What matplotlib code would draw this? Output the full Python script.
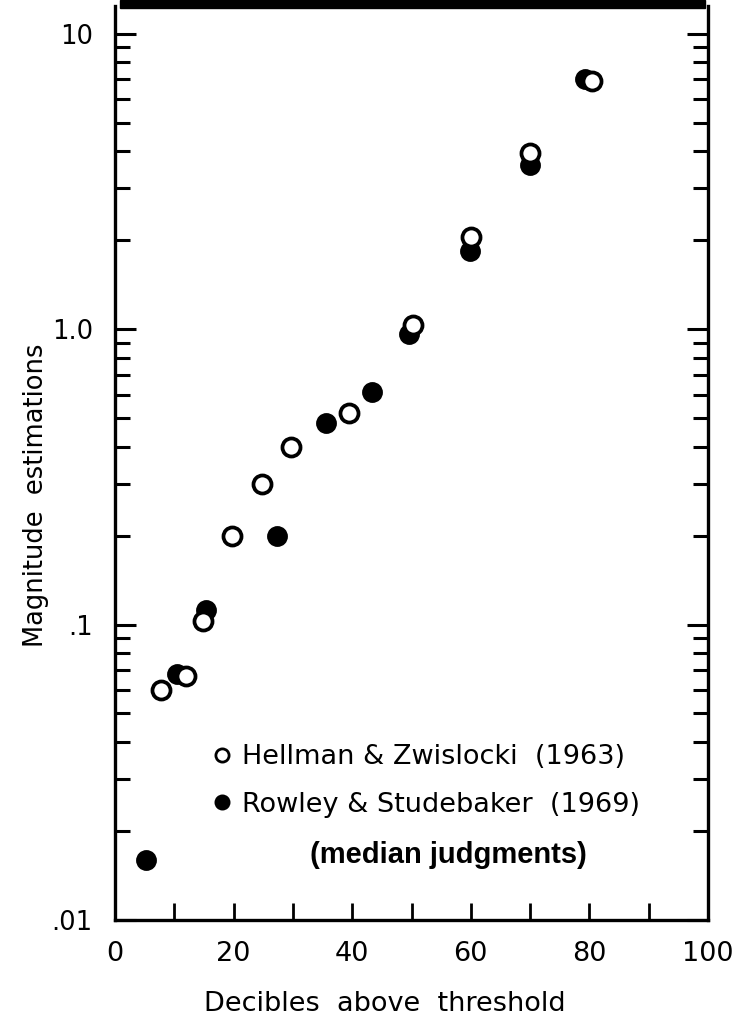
import numpy as np
import matplotlib
matplotlib.use("Agg")
import matplotlib.pyplot as plt
from matplotlib.lines import Line2D
from matplotlib.patches import Rectangle

# Hellman & Zwislocki (1963), open circles
hz_db = [7.8, 12.0, 14.8, 19.8, 24.8, 29.7, 39.5, 50.3, 60.0, 70.0, 80.4]
hz_mag = [0.060, 0.067, 0.103, 0.20, 0.30, 0.40, 0.52, 1.03, 2.05, 3.95, 6.9]

# Rowley & Studebaker (1969), filled circles
rs_db = [5.2, 10.4, 15.3, 27.3, 35.5, 43.4, 49.5, 59.8, 70.0, 79.3]
rs_mag = [0.016, 0.068, 0.112, 0.20, 0.48, 0.61, 0.96, 1.84, 3.6, 7.0]

x_ticks = list(range(0, 101, 10))
x_labels = ["0", "", "20", "", "40", "", "60", "", "80", "", "100"]
y_ticks = [0.01, 0.1, 1.0, 10.0]
y_labels = [".01", ".1", "1.0", "10"]

W, H = 749, 1027
fig = plt.figure(figsize=(W / 100, H / 100), dpi=100)
ax = fig.add_axes([115 / W, 1 - 920 / H, (708 - 115) / W, (920 - 6) / H])

ax.plot(rs_db, rs_mag, "o", ms=13, mfc="black", mec="black", mew=2)
ax.plot(hz_db, hz_mag, "o", ms=13, mfc="white", mec="black", mew=2.7)

ax.set_yscale("log")
ax.set_xlim(0, 100)
ax.set_ylim(0.01, 12.4)

ax.set_xticks(x_ticks)
ax.set_xticklabels(x_labels)
ax.set_yticks(y_ticks)
ax.set_yticklabels(y_labels)
minor = [m * d for d in (0.01, 0.1, 1.0) for m in range(2, 10)]
ax.set_yticks(minor, minor=True)
ax.yaxis.set_minor_formatter(plt.NullFormatter())

ax.tick_params(axis="y", which="major", direction="in", length=15, width=2.2,
               left=True, right=True, labelsize=18.5, pad=16)
ax.tick_params(axis="y", which="minor", direction="in", length=10.5, width=2.2,
               left=True, right=True)
ax.tick_params(axis="x", which="major", direction="in", length=12, width=2,
               top=False, labelsize=19.5, pad=15)

for side in ("left", "right", "bottom"):
    ax.spines[side].set_linewidth(2.4)
ax.spines["top"].set_visible(False)

fig.text(36 / W, 1 - 495 / H, "Magnitude  estimations", rotation=90,
         ha="center", va="center", fontsize=18.5)
fig.text(385 / W, 1 - 1004 / H, "Decibles  above  threshold",
         ha="center", va="center", fontsize=19.5)

handles = [
    Line2D([], [], ls="none", marker="o", ms=9.5, mfc="white", mec="black", mew=2),
    Line2D([], [], ls="none", marker="o", ms=9.5, mfc="black", mec="black", mew=2),
]
ax.legend(handles, ["Hellman & Zwislocki  (1963)", "Rowley & Studebaker  (1969)"],
          loc="center left", bbox_to_anchor=(100 / 593, 1 - (781 - 6) / 914),
          frameon=False, fontsize=19.5, handlelength=0.5, handletextpad=0.5,
          labelspacing=0.8, borderpad=0, borderaxespad=0)

fig.text(448 / W, 1 - 855 / H, "(median judgments)", ha="center", va="center",
         fontsize=21, fontweight="bold", family="Liberation Sans")

fig.patches.append(Rectangle((120 / W, 1 - 8 / H), 585 / W, 8 / H,
                             transform=fig.transFigure, color="black", zorder=5))

fig.savefig("out.png", dpi=100)
